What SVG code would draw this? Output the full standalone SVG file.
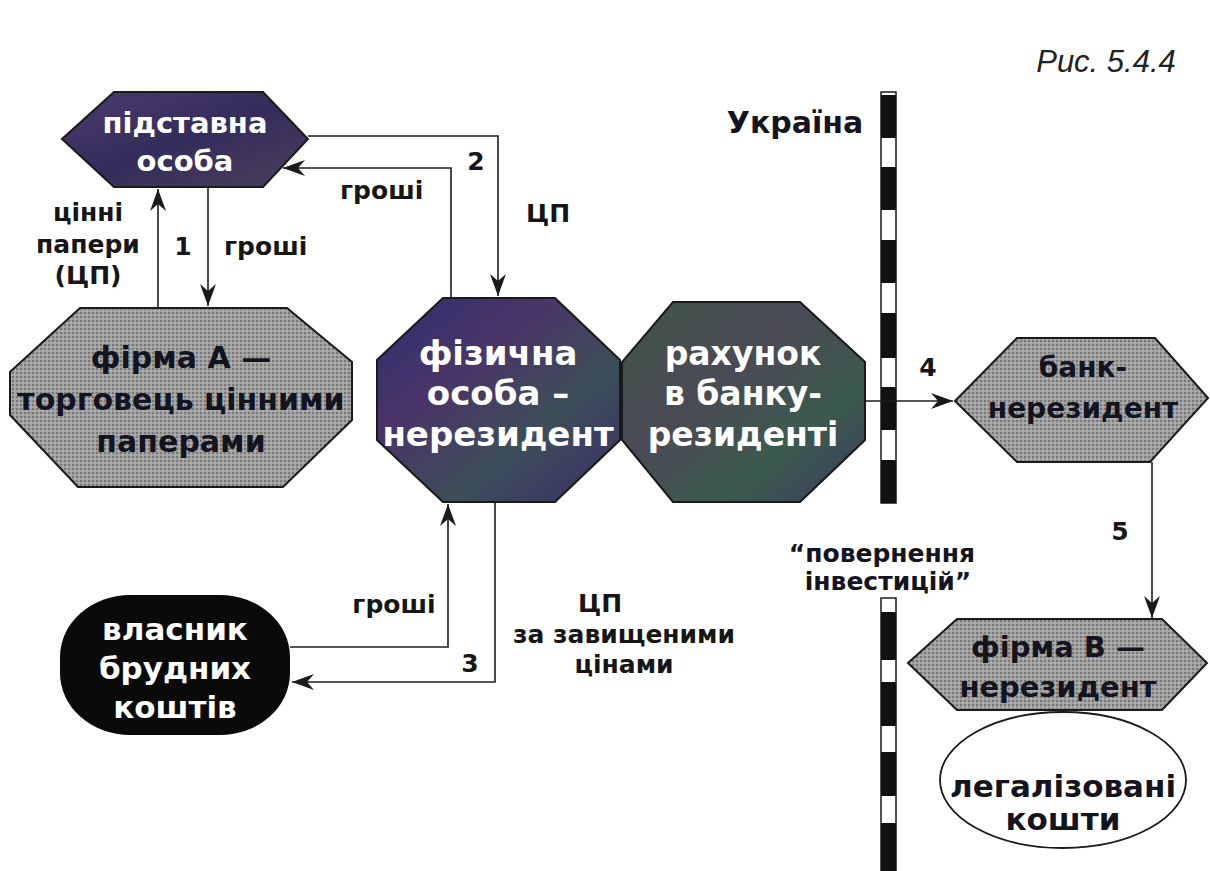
<svg xmlns="http://www.w3.org/2000/svg" width="1210" height="871" viewBox="0 0 1210 871">
<defs>
<style>
.t{font-family:"DejaVu Sans","Liberation Sans",sans-serif;font-weight:bold;text-anchor:middle}
.w{fill:#ffffff}
.k{fill:#141420}
.lbl{font-family:"DejaVu Sans","Liberation Sans",sans-serif;font-weight:bold;fill:#161616;font-size:25px}
.edge{fill:none;stroke:#1e1e1e;stroke-width:1.6}
.shape{stroke:#1a1a1a;stroke-width:2}
.gray{fill:url(#halftone)}
</style>
<pattern id="halftone" width="4" height="4" patternUnits="userSpaceOnUse">
<rect width="4" height="4" fill="#a0a0a0"/>
<circle cx="1" cy="1" r="1" fill="#6a6a6a"/>
<circle cx="3" cy="3" r="0.7" fill="#c4c4c4"/>
</pattern>
<linearGradient id="gPid" x1="0" y1="0" x2="1" y2="1">
<stop offset="0" stop-color="#4a3c6c"/>
<stop offset="0.5" stop-color="#352c5c"/>
<stop offset="1" stop-color="#4b3f58"/>
</linearGradient>
<linearGradient id="gPP" x1="0" y1="0" x2="1" y2="1">
<stop offset="0" stop-color="#2c3070"/>
<stop offset="0.35" stop-color="#4a3468"/>
<stop offset="0.65" stop-color="#3d4e58"/>
<stop offset="1" stop-color="#3a2e6a"/>
</linearGradient>
<linearGradient id="gBR" x1="0" y1="0" x2="1" y2="1">
<stop offset="0" stop-color="#3f5548"/>
<stop offset="0.4" stop-color="#4a4a55"/>
<stop offset="0.7" stop-color="#3c5a4e"/>
<stop offset="1" stop-color="#3b3c5e"/>
</linearGradient>
<marker id="arr" markerWidth="24" markerHeight="18" refX="22" refY="8" orient="auto" markerUnits="userSpaceOnUse">
<path d="M0,0 L22,8 L0,16 L7,8 Z" fill="#1a1a1a"/>
</marker>
</defs>
<rect width="1210" height="871" fill="#ffffff"/>

<text x="1106" y="72" style="font-family:'Liberation Sans',sans-serif;font-style:italic;font-size:31px;fill:#222;text-anchor:middle">Рис. 5.4.4</text>

<g id="border">
<rect x="881" y="92" width="15" height="411" fill="#ffffff" stroke="#1a1a1a" stroke-width="1.5"/>
<rect x="881" y="95" width="15" height="43" fill="#111"/>
<rect x="881" y="167" width="15" height="43" fill="#111"/>
<rect x="881" y="240" width="15" height="43" fill="#111"/>
<rect x="881" y="313" width="15" height="45" fill="#111"/>
<rect x="881" y="387" width="15" height="43" fill="#111"/>
<rect x="881" y="460" width="15" height="43" fill="#111"/>
<rect x="881" y="598" width="15" height="275" fill="#ffffff" stroke="#1a1a1a" stroke-width="1.5"/>
<rect x="881" y="612" width="15" height="48" fill="#111"/>
<rect x="881" y="682" width="15" height="44" fill="#111"/>
<rect x="881" y="752" width="15" height="44" fill="#111"/>
<rect x="881" y="823" width="15" height="50" fill="#111"/>
<text class="t k" x="795" y="133" font-size="30">Україна</text>
<text class="t k" x="882" y="562" font-size="25">“повернення</text>
<text class="t k" x="888" y="590" font-size="25">інвестицій”</text>
</g>

<g id="connectors">
<polyline class="edge" points="158,308 158,189" marker-end="url(#arr)"/>
<polyline class="edge" points="208,187 208,306" marker-end="url(#arr)"/>
<polyline class="edge" points="308,136 498,136 498,296" marker-end="url(#arr)"/>
<polyline class="edge" points="451,298 451,168 283,168" marker-end="url(#arr)"/>
<polyline class="edge" points="290,647 448,647 448,504" marker-end="url(#arr)"/>
<polyline class="edge" points="495,502 495,682 292,682" marker-end="url(#arr)"/>
<polyline class="edge" points="865,401 953,401" marker-end="url(#arr)"/>
<polyline class="edge" points="1152,462 1152,618" marker-end="url(#arr)"/>
<text class="lbl" x="88" y="221" text-anchor="middle">цінні</text>
<text class="lbl" x="88" y="253" text-anchor="middle">папери</text>
<text class="lbl" x="88" y="284" text-anchor="middle">(ЦП)</text>
<text class="lbl" x="183" y="255" text-anchor="middle">1</text>
<text class="lbl" x="224" y="255">гроші</text>
<text class="lbl" x="340" y="199">гроші</text>
<text class="lbl" x="476" y="170" text-anchor="middle">2</text>
<text class="lbl" x="548" y="222" text-anchor="middle">ЦП</text>
<text class="lbl" x="394" y="613" text-anchor="middle">гроші</text>
<text class="lbl" x="470" y="672" text-anchor="middle">3</text>
<text class="lbl" x="600" y="612" text-anchor="middle">ЦП</text>
<text class="lbl" x="624" y="643" text-anchor="middle" font-size="20">за завищеними</text>
<text class="lbl" x="624" y="673" text-anchor="middle" font-size="20">цінами</text>
<text class="lbl" x="928" y="376" text-anchor="middle">4</text>
<text class="lbl" x="1120" y="540" text-anchor="middle">5</text>
</g>

<g id="pidstavna">
<polygon class="shape" fill="url(#gPid)" points="62,139 114,92 263,92 308,139 263,187 114,187"/>
<text class="t w" x="185" y="133" font-size="29">підставна</text>
<text class="t w" x="185" y="171" font-size="29">особа</text>
</g>

<g id="firmaA">
<polygon class="shape gray" points="80,308 287,308 352,362 352,420 283,487 78,487 10,415 10,372"/>
<text class="t k" x="181" y="368" font-size="30">фірма А —</text>
<text class="t k" x="181" y="410" font-size="30">торговець цінними</text>
<text class="t k" x="181" y="452" font-size="30">паперами</text>
</g>

<g id="fizychna">
<polygon class="shape" fill="url(#gPP)" points="443,298 555,298 620,360 620,440 555,502 443,502 377,440 377,360"/>
<text class="t w" x="498" y="365" font-size="34">фізична</text>
<text class="t w" x="498" y="405" font-size="34">особа –</text>
<text class="t w" x="498" y="446" font-size="34">нерезидент</text>
</g>

<g id="rakhunok">
<polygon class="shape" fill="url(#gBR)" points="673,302 800,302 865,362 865,440 800,502 673,502 622,440 622,362"/>
<text class="t w" x="743" y="365" font-size="33">рахунок</text>
<text class="t w" x="743" y="405" font-size="33">в банку-</text>
<text class="t w" x="743" y="446" font-size="33">резиденті</text>
</g>

<g id="bank">
<polygon class="shape gray" points="955,401 1017,338 1155,338 1208,398 1150,462 1017,462"/>
<text class="t k" x="1083" y="377" font-size="28">банк-</text>
<text class="t k" x="1083" y="418" font-size="28">нерезидент</text>
</g>

<g id="firmaB">
<polygon class="shape gray" points="908,663 957,619 1162,619 1207,663 1162,710 957,710"/>
<text class="t k" x="1058" y="657" font-size="29">фірма В —</text>
<text class="t k" x="1058" y="697" font-size="29">нерезидент</text>
</g>

<g id="koshty">
<ellipse cx="1063" cy="780" rx="123" ry="68" fill="#ffffff" stroke="#1a1a1a" stroke-width="1.8"/>
<text class="t k" x="1063" y="797" font-size="31">легалізовані</text>
<text class="t k" x="1063" y="830" font-size="31">кошти</text>
</g>

<g id="vlasnyk">
<rect x="60" y="595" width="230" height="140" rx="70" ry="62" fill="#0a0a0a"/>
<text class="t w" x="175" y="640" font-size="31">власник</text>
<text class="t w" x="175" y="679" font-size="31">брудних</text>
<text class="t w" x="175" y="718" font-size="31">коштів</text>
</g>
</svg>
